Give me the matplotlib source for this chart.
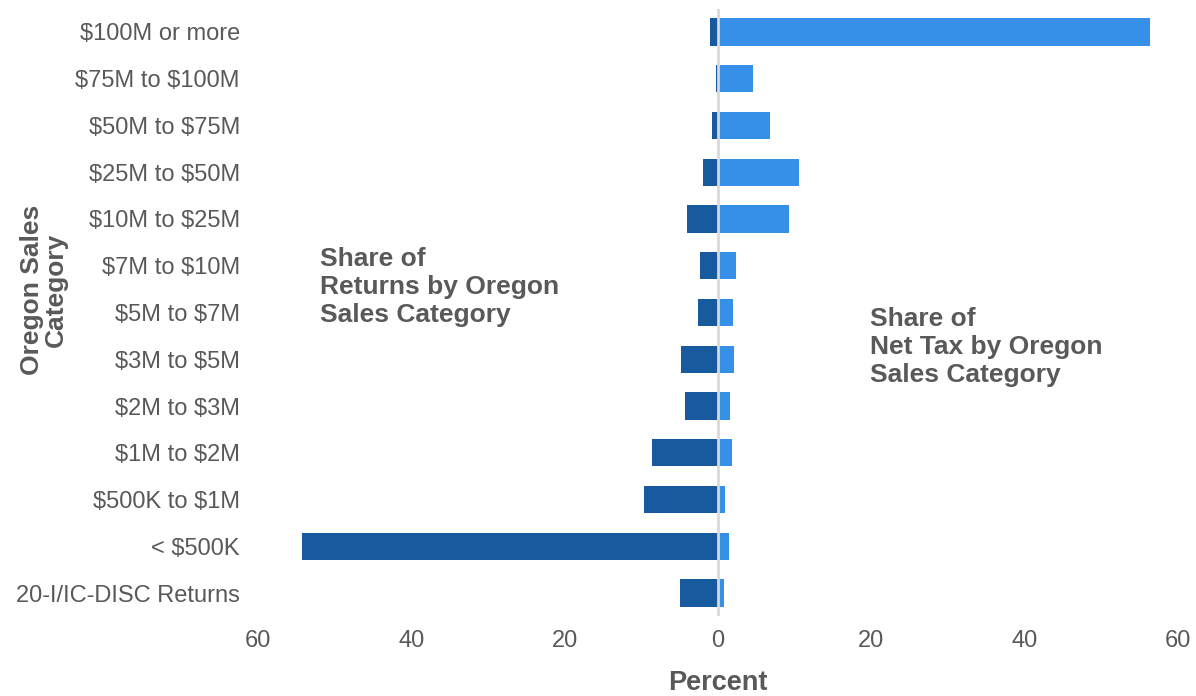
import matplotlib
matplotlib.use("Agg")
import matplotlib.pyplot as plt
import matplotlib.ticker as mtick
import numpy as np

plt.rcParams["font.family"] = ["Liberation Sans", "DejaVu Sans"]
plt.rcParams["text.parse_math"] = False

categories = [
    "$100M or more", "$75M to $100M", "$50M to $75M", "$25M to $50M",
    "$10M to $25M", "$7M to $10M", "$5M to $7M", "$3M to $5M",
    "$2M to $3M", "$1M to $2M", "$500K to $1M", "< $500K",
    "20-I/IC-DISC Returns",
]
# percent shares
returns_share = [1.1, 0.3, 0.8, 1.9, 4.0, 2.4, 2.6, 4.8, 4.3, 8.6, 9.6, 54.2, 4.9]
net_tax_share = [56.3, 4.6, 6.8, 10.6, 9.3, 2.4, 1.9, 2.1, 1.6, 1.8, 0.9, 1.4, 0.8]

DARK = "#175A9D"
LIGHT = "#3790E8"
GREY = "#595959"

fig = plt.figure(figsize=(11.96, 6.96), dpi=100)
ax = fig.add_axes([258 / 1196, 1 - 616.4 / 696, 920 / 1196, 607.8 / 696])

y = np.arange(len(categories))
ax.barh(y, -np.array(returns_share), height=0.58, color=DARK, zorder=2)
ax.barh(y, net_tax_share, height=0.58, color=LIGHT, zorder=2)
ax.axvline(0, color="#D9D9D9", linewidth=2, zorder=3)

ax.set_xlim(-60, 60)
ax.set_ylim(len(categories) - 0.5, -0.5)
ax.set_yticks(y)
ax.set_yticklabels(categories)
ax.set_xticks(np.arange(-60, 61, 20))
ax.xaxis.set_major_formatter(mtick.FuncFormatter(lambda v, _: f"{abs(v):.0f}"))
ax.tick_params(axis="both", length=0, labelsize=17, labelcolor=GREY)
ax.tick_params(axis="y", pad=13)
ax.tick_params(axis="x", pad=10)
for s in ax.spines.values():
    s.set_visible(False)

fig.text(718 / 1196, 1 - 683 / 696, "Percent", ha="center", va="center",
         fontsize=19.5, fontweight="bold", color=GREY)
fig.text(44 / 1196, 1 - 290 / 696, "Oregon Sales\nCategory", ha="center", va="center",
         rotation=90, fontsize=19, fontweight="bold", color=GREY, linespacing=1.0)

fig.text(320 / 1196, 1 - 287 / 696, "Share of\nReturns by Oregon\nSales Category",
         ha="left", va="center", fontsize=19, fontweight="bold", color=GREY, linespacing=1.2)
fig.text(870 / 1196, 1 - 347 / 696, "Share of\nNet Tax by Oregon\nSales Category",
         ha="left", va="center", fontsize=19, fontweight="bold", color=GREY, linespacing=1.2)

fig.savefig("out.png", dpi=100)
